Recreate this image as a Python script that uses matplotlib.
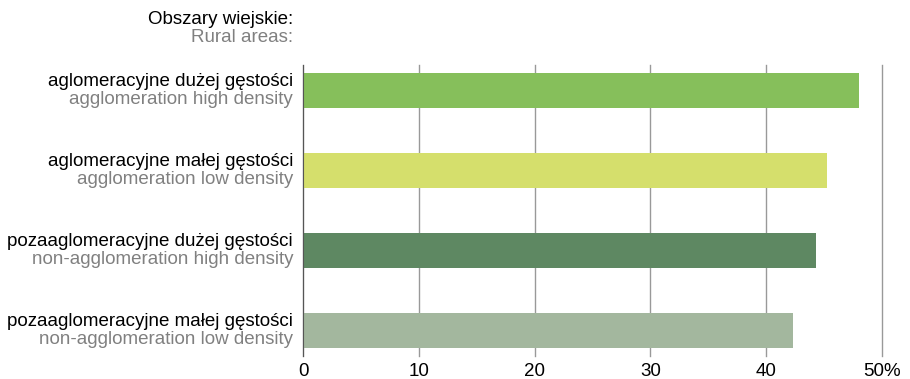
import matplotlib as mpl
mpl.use('Agg')
import matplotlib.pyplot as plt
import matplotlib.transforms as mtransforms

plt.rcParams['font.family'] = ['Liberation Sans', 'DejaVu Sans']

labels_pl = ['aglomeracyjne dużej gęstości',
             'aglomeracyjne małej gęstości',
             'pozaaglomeracyjne dużej gęstości',
             'pozaaglomeracyjne małej gęstości']
labels_en = ['agglomeration high density',
             'agglomeration low density',
             'non-agglomeration high density',
             'non-agglomeration low density']
values = [48.0, 45.3, 44.3, 42.3]
colors = ['#86bf5b', '#d5df6c', '#5e8862', '#a3b79e']
xticks = [0, 10, 20, 30, 40, 50]
xticklabels = ['0', '10', '20', '30', '40', '50%']

fs = 13.5
fig = plt.figure(figsize=(9.1, 3.79), dpi=100)
ax = fig.add_axes([0.333, 0.061, 0.636, 0.767])

ypos = list(range(len(values)))
ax.barh(ypos, values, height=0.436, color=colors, zorder=2)
ax.set_xlim(0, 50)
ax.set_ylim(3.31, -0.31)
ax.set_xticks(xticks)
ax.set_xticklabels(xticklabels, fontsize=fs)
ax.set_yticks([])
ax.grid(axis='x', color='#999999', linewidth=1.0, zorder=0)
for gl in ax.get_xgridlines():
    gl.set_clip_on(False)
for s in ['top', 'right', 'bottom']:
    ax.spines[s].set_visible(False)
ax.spines['left'].set_color('#555555')
ax.tick_params(axis='x', length=0, pad=5)

trans = mtransforms.blended_transform_factory(ax.transAxes, ax.transData)
for i in ypos:
    off1 = mtransforms.offset_copy(trans, fig=fig, x=-10, y=9, units='dots')
    off2 = mtransforms.offset_copy(trans, fig=fig, x=-10, y=-9, units='dots')
    ax.text(0, i, labels_pl[i], transform=off1, ha='right', va='center',
            fontsize=fs, color='black')
    ax.text(0, i, labels_en[i], transform=off2, ha='right', va='center',
            fontsize=fs, color='#808080')

fig.text(293 / 910, 1 - 19 / 379, 'Obszary wiejskie:', ha='right',
         va='center', fontsize=fs, color='black')
fig.text(293 / 910, 1 - 38 / 379, 'Rural areas:', ha='right',
         va='center', fontsize=fs, color='#808080')

plt.savefig('out.png', dpi=100)
